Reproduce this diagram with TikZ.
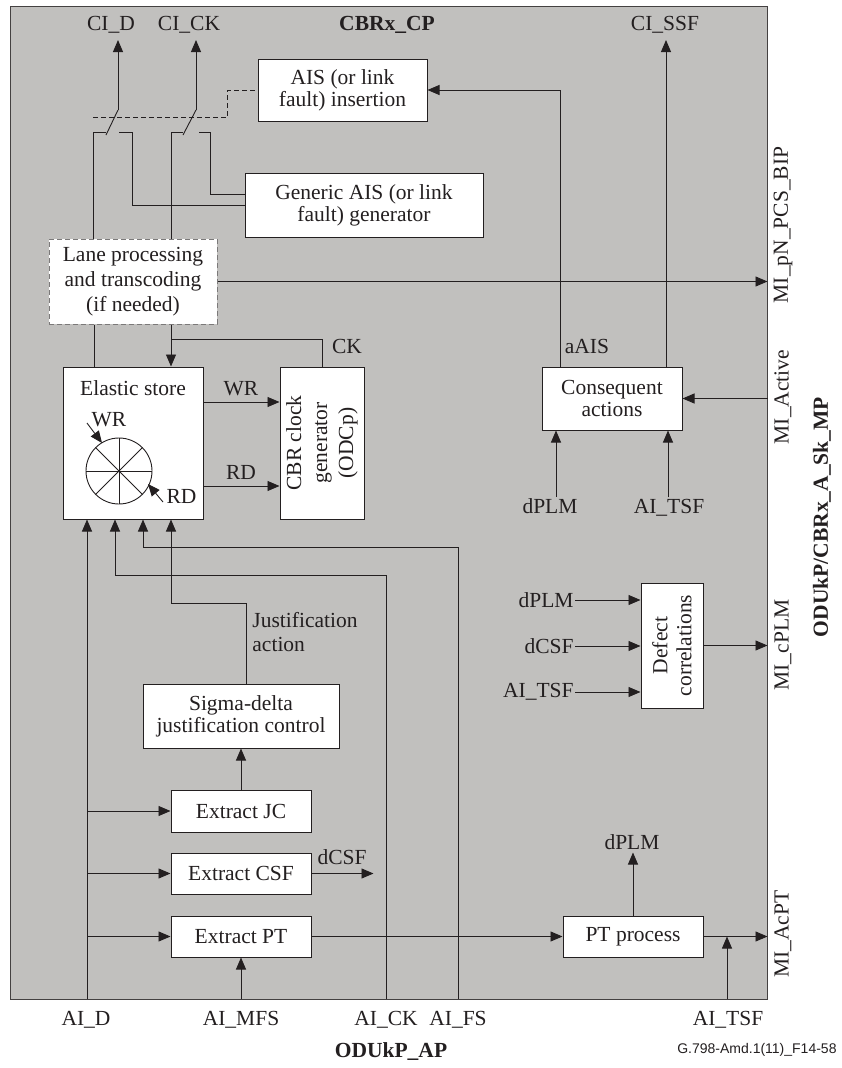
\documentclass[tikz,border=0pt]{standalone}
\usepackage{fontspec}
\setmainfont{Liberation Serif}
\newfontfamily\figsans{Liberation Sans}
\usetikzlibrary{arrows.meta,calc}
\definecolor{cpgray}{RGB}{193,192,190}
\definecolor{ink}{RGB}{35,31,32}
\newcommand{\figfont}{\fontsize{21.5}{22}\selectfont}

\begin{document}
\begin{tikzpicture}[x=1pt,y=1pt,yscale=-1,xscale=1,color=ink,line width=0.9pt,
    every node/.style={font=\figfont, inner sep=1pt},
    blk/.style={draw=ink, fill=white, line width=1pt, align=center, inner sep=2pt},
    arr/.style={-{Triangle[length=12pt,width=10pt]}}]
\useasboundingbox (0,0) rectangle (842,1068);

%Shape: Rectangle [CBRx_CP frame]
\node[draw=ink!85, fill=cpgray, line width=1pt, minimum width=757pt, minimum height=993pt, inner sep=0pt] (cp) at (388.5,502.5) {};

%Shapes: function blocks
\node[blk, minimum width=169pt, minimum height=62pt] (ais) at (342.5,90) {AIS (or link\\fault) insertion};
\node[blk, minimum width=238pt, minimum height=64pt] (gen) at (364,205) {Generic AIS (or link\\fault) generator};
\node[blk, draw=ink!60, dash pattern=on 5pt off 3pt, font=\fontsize{21.5}{25}\selectfont, minimum width=168pt, minimum height=85pt] (lane) at (133,281.5) {Lane processing\\and transcoding\\(if needed)};
\node[blk, minimum width=140pt, minimum height=152pt] (es) at (133,443) {};
\node[blk, minimum width=84pt, minimum height=152pt] (cbr) at (322,443) {};
\node[blk, minimum width=140pt, minimum height=63pt] (cons) at (612,398.5) {Consequent\\actions};
\node[blk, minimum width=62pt, minimum height=125pt] (defc) at (672,645.5) {};
\node[blk, minimum width=196pt, minimum height=64pt] (sigma) at (241,716) {Sigma-delta\\justification control};
\node[blk, minimum width=140pt, minimum height=42pt] (ejc) at (241,811) {Extract JC};
\node[blk, minimum width=140pt, minimum height=41pt] (ecsf) at (241,873.5) {Extract CSF};
\node[blk, minimum width=140pt, minimum height=41pt] (ept) at (241,936.5) {Extract PT};
\node[blk, minimum width=140pt, minimum height=41pt] (ptp) at (633,936.5) {PT process};

% Text Node (block texts)
\node[anchor=base] (estxt) at (133,395) {Elastic store};
\node[rotate=90, align=center, font=\fontsize{21.5}{26}\selectfont] (cbrtxt) at (cbr) {CBR clock\\generator\\(ODCp)};
\node[rotate=90, align=center, font=\fontsize{21.5}{24}\selectfont] (defctxt) at (defc) {Defect\\correlations};

%Switches [CI_D and CI_CK]
\coordinate (pvD) at (118,110);
\coordinate (ctD) at (93,132);
\coordinate (crD) at (132,132);
\coordinate (pvK) at (196,110);
\coordinate (ctK) at (171,132);
\coordinate (crK) at (210,132);
\draw[arr] (pvD) -- (pvD |- 0,40);
\draw (pvD) -- ++(-12,25);
\draw (lane.north -| ctD) -- (ctD) -- ++(13,0);
\draw (crD) -- ++(-13,0);
\draw (crD) |- (gen.west);
\draw[arr] (pvK) -- (pvK |- 0,40);
\draw (pvK) -- ++(-13,25);
\draw (lane.north -| ctK) -- (ctK) -- ++(12,0);
\draw (crK) -- ++(-11,0);
\draw (crK) |- (gen.west |- 0,194);
\draw[dash pattern=on 5pt off 3pt, line width=0.8pt] (93,117) -| ([xshift=-30pt]ais.west) -- (ais.west);

%Straight Lines [lane processing / elastic store / clock]
\draw[arr] (lane.east) -- (lane.east -| cp.east);
\draw (94,0 |- lane.south) -- (94,0 |- es.north);
\draw[arr] (171,0 |- lane.south) -- (171,0 |- es.north);
\coordinate (ckj) at (171,339);
\draw (ckj) -| (cbr.north);
\draw[arr] (es.east |- 0,402) -- (cbr.west |- 0,402);
\draw[arr] (es.east |- 0,486) -- (cbr.west |- 0,486);

%Shape: Circle [elastic store buffer]
\coordinate (ring) at (119,471);
\draw (ring) circle[radius=33pt];
\draw ($(ring)+(-33,0)$) -- ($(ring)+(33,0)$);
\draw ($(ring)+(0,-33)$) -- ($(ring)+(0,33)$);
\draw ($(ring)+(-23.3,-23.3)$) -- ($(ring)+(23.3,23.3)$);
\draw ($(ring)+(-23.3,23.3)$) -- ($(ring)+(23.3,-23.3)$);
\draw[arr] ($(ring)+(-32,-48)$) -- ($(ring)+(-17,-28)$);
\draw[arr] ($(ring)+(44,31)$) -- ($(ring)+(29,13)$);

%Straight Lines [adaptation inputs]
\coordinate (aiD) at (87,999);
\coordinate (aiMFS) at (241,999);
\coordinate (aiCK) at (386,999);
\coordinate (aiFS) at (458,999);
\coordinate (aiTSF) at (727,999);
\draw[arr] (aiD) -- (aiD |- es.south);
\draw[arr] (aiCK) |- (115,575) -- (115,0 |- es.south);
\draw[arr] (aiFS) |- (143,547) -- (143,0 |- es.south);
\draw[arr] ([xshift=5pt]sigma.north) |- (171,603) -- (171,0 |- es.south);
\draw[arr] (ejc) -- (sigma);
\draw[arr] (aiD |- ejc.west) -- (ejc.west);
\draw[arr] (aiD |- ecsf.west) -- (ecsf.west);
\draw[arr] (aiD |- ept.west) -- (ept.west);
\draw[arr] (ecsf.east) -- ++(62,0);
\draw[arr] (aiMFS) -- (ept.south);
\draw[arr] (ept) -- (ptp);
\draw[arr] (ptp.north) -- ++(0,-63);
\draw[arr] (ptp.east) -- (ptp.east -| cp.east);
\draw[arr] (aiTSF) -- (aiTSF |- ptp.east);

%Straight Lines [consequent actions]
\draw[arr] (560,0 |- cons.north) |- (ais.east);
\draw[arr] (666,0 |- cons.north) -- (666,40);
\draw[arr] (cons.east -| cp.east) -- (cons.east);
\node[anchor=base] (dplmA) at (550,513) {dPLM};
\node[anchor=base] (aitsfA) at (669,513) {AI\_TSF};
\draw[arr] (556,0 |- dplmA.north) -- (556,0 |- cons.south);
\draw[arr] (668,0 |- aitsfA.north) -- (668,0 |- cons.south);

%Straight Lines [defect correlations]
\node[anchor=east] (dplmB) at (575,600) {dPLM};
\node[anchor=east] (dcsfB) at (575,646) {dCSF};
\node[anchor=east] (aitsfB) at (575,692) {AI\_TSF};
\draw[arr] (dplmB.east) -- (dplmB.east -| defc.west);
\draw[arr] (dcsfB.east) -- (dcsfB.east -| defc.west);
\draw[arr] (aitsfB.east) -- (aitsfB.east -| defc.west);
\draw[arr] (defc.east) -- (defc.east -| cp.east);

% Text Node (signal labels)
\node[anchor=base] (ckl) at (347,353) {CK};
\node[anchor=base] (wrl) at (241,395) {WR};
\node[anchor=base] (rdl) at (241,479) {RD};
\node[anchor=base] (wrin) at (109,426) {WR};
\node[anchor=base] (rdin) at (181.5,503) {RD};
\node[anchor=base] (aaisl) at (587,353) {aAIS};
\node[anchor=north west, align=left, font=\fontsize{21.5}{24}\selectfont] (justl) at (251,611) {Justification\\action};
\node[anchor=base] (dcsfA) at (342,864) {dCSF};
\node[anchor=base] (dplmC) at (632,849) {dPLM};

% Text Node (top)
\node[anchor=base] (ciDl) at (111,30) {CI\_D};
\node[anchor=base] (ciCKl) at (189,30) {CI\_CK};
\node[anchor=base, font=\figfont\bfseries] (cpl) at (387,30) {CBRx\_CP};
\node[anchor=base] (ciSSFl) at (665,30) {CI\_SSF};

% Text Node (bottom)
\node[anchor=base] (aiDl) at (86,1025) {AI\_D};
\node[anchor=base] (aiMFSl) at (241,1025) {AI\_MFS};
\node[anchor=base] (aiCKl) at (386,1025) {AI\_CK};
\node[anchor=base] (aiFSl) at (458,1025) {AI\_FS};
\node[anchor=base] (aiTSFl) at (728,1025) {AI\_TSF};
\node[anchor=base, font=\figfont\bfseries] (apl) at (391,1057) {ODUkP\_AP};
\node[anchor=base east, font=\figsans\fontsize{14}{16}\selectfont] (figid) at (838,1053) {G.798-Amd.1(11)\_F14-58};

% Text Node (right)
\node[rotate=90] (mipn) at (783,225) {MI\_pN\_PCS\_BIP};
\node[rotate=90] (miact) at (783,397) {MI\_Active};
\node[rotate=90] (micplm) at (783,645) {MI\_cPLM};
\node[rotate=90] (miacpt) at (783,934) {MI\_AcPT};
\node[rotate=90, font=\figfont\bfseries] (mpl) at (822,517) {ODUkP/CBRx\_A\_Sk\_MP};
\end{tikzpicture}
\end{document}
